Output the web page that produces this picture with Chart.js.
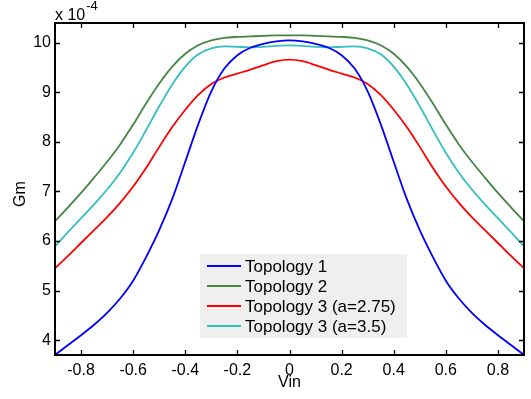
<!DOCTYPE html>
<html><head><meta charset="utf-8">
<script src="https://cdn.jsdelivr.net/npm/chart.js@4/dist/chart.umd.min.js"></script>
<style>html,body{margin:0;padding:0;background:#fff}#wrap{width:531px;height:399px;position:relative}</style>
</head><body><div id="wrap"><canvas id="c" width="531" height="399"></canvas></div>
<script>
const vin = [-0.9,-0.85,-0.8,-0.75,-0.7,-0.65,-0.6,-0.55,-0.5,-0.45,-0.4,-0.35,-0.3,-0.25,-0.2,-0.15,-0.1,-0.05,0,
  0.05,0.1,0.15,0.2,0.25,0.3,0.35,0.4,0.45,0.5,0.55,0.6,0.65,0.7,0.75,0.8,0.85,0.9];
const topology1 = [3.70,3.90,4.10,4.31,4.55,4.84,5.20,5.68,6.22,6.85,7.60,8.36,9.02,9.48,9.75,9.90,9.98,10.03,10.05,
  10.03,9.98,9.90,9.75,9.48,9.02,8.36,7.60,6.85,6.22,5.68,5.20,4.84,4.55,4.31,4.10,3.90,3.70];
const topology2 = [6.40,6.68,6.97,7.28,7.60,7.95,8.35,8.78,9.18,9.52,9.78,9.95,10.05,10.10,10.12,10.13,10.14,10.15,10.15,
  10.15,10.14,10.13,10.12,10.10,10.05,9.95,9.78,9.52,9.18,8.78,8.35,7.95,7.60,7.28,6.97,6.68,6.40];
const topology3a275 = [5.45,5.70,5.96,6.22,6.48,6.77,7.10,7.48,7.90,8.30,8.65,8.95,9.17,9.30,9.38,9.46,9.55,9.63,9.66,
  9.63,9.55,9.46,9.38,9.30,9.17,8.95,8.65,8.30,7.90,7.48,7.10,6.77,6.48,6.22,5.96,5.70,5.45];
const topology3a35 = [5.89,6.18,6.46,6.74,7.04,7.38,7.78,8.24,8.72,9.16,9.52,9.77,9.89,9.93,9.92,9.91,9.92,9.94,9.95,
  9.94,9.92,9.91,9.92,9.93,9.89,9.77,9.52,9.16,8.72,8.24,7.78,7.38,7.04,6.74,6.46,6.18,5.89];
const xTickValues = [-0.8,-0.6,-0.4,-0.2,0,0.2,0.4,0.6,0.8];
const yTickValues = [4,5,6,7,8,9,10];
const seriesLabels = ['Topology 1','Topology 2','Topology 3 (a=2.75)','Topology 3 (a=3.5)'];
const seriesColors = ['#0000ff','#468546','#ff0000','#33bfbf'];
const seriesValues = [topology1, topology2, topology3a275, topology3a35];
const xLabel = 'Vin', yLabel = 'Gm', yExpBase = 'x 10', yExp = '-4';

const FONT = "'Liberation Sans', Arial, Helvetica, sans-serif";

const datasets = seriesValues.map((vals, i) => ({
  label: seriesLabels[i],
  data: vin.map((x, j) => ({x: x, y: vals[j]})),
  borderColor: seriesColors[i],
  backgroundColor: seriesColors[i],
  borderWidth: 1.8,
  pointRadius: 0,
  cubicInterpolationMode: 'monotone',
  fill: false
}));

const matlabAxes = {
  id: 'matlabAxes',
  afterDatasetsDraw(chart) {
    const ctx = chart.ctx, a = chart.chartArea;
    const xs = chart.scales.x, ys = chart.scales.y;
    ctx.save();
    // legend
    const lx = a.left + 145, ly = a.top + 231, lw = 207, lh = 84;
    ctx.fillStyle = '#efefef';
    ctx.fillRect(lx, ly, lw, lh);
    ctx.font = '17px ' + FONT;
    ctx.textBaseline = 'middle';
    ctx.textAlign = 'left';
    chart.data.datasets.forEach((d, i) => {
      const yy = ly + 12 + i * 20;
      ctx.strokeStyle = d.borderColor;
      ctx.lineWidth = 2;
      ctx.beginPath(); ctx.moveTo(lx + 7, yy); ctx.lineTo(lx + 41, yy); ctx.stroke();
      ctx.fillStyle = '#000';
      ctx.fillText(d.label, lx + 45, yy + 1);
    });
    // box
    ctx.strokeStyle = '#000';
    ctx.lineWidth = 2;
    ctx.strokeRect(a.left, a.top, a.right - a.left, a.bottom - a.top);
    ctx.lineWidth = 1.3;
    const tl = 5;
    xs.ticks.forEach(t => {
      const px = Math.round(xs.getPixelForValue(t.value)) + 0.5;
      ctx.beginPath();
      ctx.moveTo(px, a.bottom); ctx.lineTo(px, a.bottom - tl);
      ctx.moveTo(px, a.top); ctx.lineTo(px, a.top + tl);
      ctx.stroke();
    });
    ys.ticks.forEach(t => {
      const py = Math.round(ys.getPixelForValue(t.value)) + 0.5;
      ctx.beginPath();
      ctx.moveTo(a.left, py); ctx.lineTo(a.left + tl, py);
      ctx.moveTo(a.right, py); ctx.lineTo(a.right - tl, py);
      ctx.stroke();
    });
    // titles
    ctx.fillStyle = '#000';
    ctx.font = '16px ' + FONT;
    ctx.textAlign = 'center';
    ctx.textBaseline = 'middle';
    ctx.fillText(xLabel, (a.left + a.right) / 2, 383);
    ctx.save();
    ctx.translate(21, 194);
    ctx.rotate(-Math.PI / 2);
    ctx.fillText(yLabel, 0, 0);
    ctx.restore();
    ctx.textAlign = 'left';
    ctx.font = '16px ' + FONT;
    ctx.fillText(yExpBase, a.left, 16);
    const w = ctx.measureText(yExpBase).width;
    ctx.font = '13px ' + FONT;
    ctx.fillText(yExp, a.left + w + 1, 6);
    ctx.restore();
  }
};

new Chart(document.getElementById('c'), {
  type: 'line',
  data: { datasets: datasets },
  options: {
    responsive: false,
    animation: false,
    devicePixelRatio: 1,
    layout: { padding: { top: 23, right: 7, left: 0, bottom: 0 } },
    plugins: { legend: { display: false }, tooltip: { enabled: false } },
    scales: {
      x: {
        type: 'linear', min: -0.9, max: 0.9,
        grid: { display: false, drawTicks: false },
        border: { display: false },
        afterBuildTicks: s => { s.ticks = xTickValues.map(v => ({ value: v })); },
        ticks: {
          padding: 6, color: '#000',
          maxRotation: 0, autoSkip: false,
          font: { family: FONT, size: 16 },
          callback: v => Math.abs(v) < 1e-9 ? '0' : String(Math.round(v * 10) / 10)
        },
        afterFit: s => { s.height = 44; }
      },
      y: {
        type: 'linear', min: 3.7, max: 10.4,
        grid: { display: false, drawTicks: false },
        border: { display: false },
        afterBuildTicks: s => { s.ticks = yTickValues.map(v => ({ value: v })); },
        ticks: {
          padding: 4, color: '#000',
          font: { family: FONT, size: 16 },
          callback: v => String(Math.round(v))
        },
        afterFit: s => { s.width = 55; }
      }
    }
  },
  plugins: [matlabAxes]
});
</script>
</body></html>
